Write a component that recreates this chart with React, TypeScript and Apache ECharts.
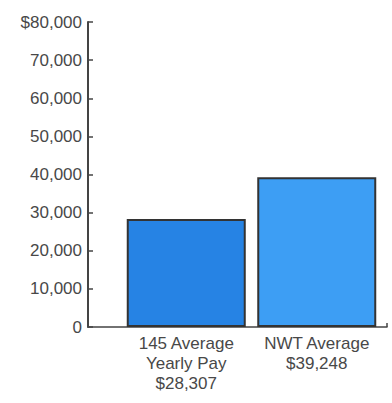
import React, { useEffect, useRef } from "react";
import * as echarts from "echarts";

const categories = ["145 Average\nYearly Pay\n$28,307", "NWT Average\n$39,248"];
const values = [28307, 39248];
const barColors = ["#2683e4", "#3d9ef4"];
const yTicks = { min: 0, max: 80000, interval: 10000 };

export default function App() {
  const ref = useRef<HTMLDivElement>(null);
  useEffect(() => {
    const chart = echarts.init(ref.current!, null, { renderer: "svg" });
    const font = "'Liberation Sans', Arial, Helvetica, sans-serif";
    chart.setOption({
      animation: false,
      backgroundColor: "#ffffff",
      grid: [
        { left: 88, right: 5, top: 22, bottom: 76 },
        { left: 121, right: 10, top: 22, bottom: 76 },
      ],
      xAxis: [
        {
          gridIndex: 0,
          type: "category",
          data: [""],
          boundaryGap: true,
          axisLine: { lineStyle: { color: "#444", width: 1.5 } },
          axisTick: { show: true, inside: true, length: 4, lineStyle: { color: "#444", width: 1.5 } },
          axisLabel: { show: false },
        },
        {
          gridIndex: 1,
          type: "category",
          data: categories,
          axisLine: { show: false },
          axisTick: { show: false },
          axisLabel: {
            color: "#484848",
            fontSize: 17,
            fontFamily: font,
            lineHeight: 20,
            margin: 6,
            interval: 0,
          },
        },
      ],
      yAxis: [
        {
          gridIndex: 0,
          type: "value",
          min: yTicks.min,
          max: yTicks.max,
          interval: yTicks.interval,
          splitLine: { show: false },
          axisLine: { show: true, lineStyle: { color: "#444", width: 2 } },
          axisTick: { show: true, inside: true, length: 5, lineStyle: { color: "#444", width: 1.5 } },
          axisLabel: {
            color: "#484848",
            fontSize: 17,
            fontFamily: font,
            margin: 6,
            formatter: (v: number) => {
              const s = v.toLocaleString("en-US");
              return v === yTicks.max ? "$" + s : s;
            },
          },
        },
        {
          gridIndex: 1,
          type: "value",
          min: yTicks.min,
          max: yTicks.max,
          interval: yTicks.interval,
          show: false,
          splitLine: { show: false },
        },
      ],
      series: [
        {
          type: "bar",
          xAxisIndex: 1,
          yAxisIndex: 1,
          barWidth: 119,
          data: values.map((v, i) => ({
            value: v,
            itemStyle: { color: barColors[i] },
          })),
          itemStyle: { borderColor: "#333", borderWidth: 2 },
        },
      ],
    });
    return () => chart.dispose();
  }, []);
  return (
    <div
      ref={ref}
      style={{ position: "fixed", left: 0, top: 0, width: 392, height: 403 }}
    />
  );
}
